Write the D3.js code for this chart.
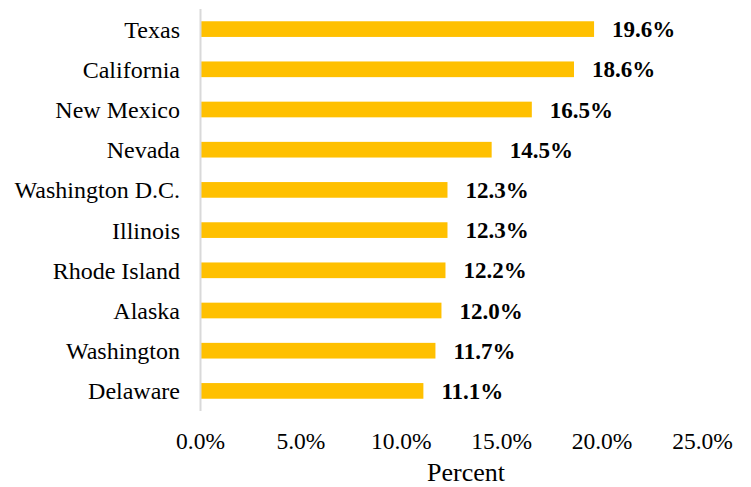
<!DOCTYPE html>
<html>
<head>
<meta charset="utf-8">
<script src="https://cdn.jsdelivr.net/npm/d3@7"></script>
<style>
  body { margin: 0; background: #fff; }
</style>
</head>
<body>
<div id="chart"></div>
<script>
const states = ["Texas", "California", "New Mexico", "Nevada", "Washington D.C.",
    "Illinois", "Rhode Island", "Alaska", "Washington", "Delaware"];
const values = [19.6, 18.6, 16.5, 14.5, 12.3, 12.3, 12.2, 12.0, 11.7, 11.1];
const ticks = [0, 5, 10, 15, 20, 25];

const width = 751;
const height = 487;
const font = "'Liberation Serif', 'Times New Roman', Times, serif";

const svg = d3.select("#chart")
    .append("svg")
    .attr("width", width)
    .attr("height", height)
    .style("font-family", font);

const x = d3.scaleLinear()
    .domain([0, 25])
    .range([200.5, 702.5]);

const y = d3.scaleBand()
    .domain(states)
    .range([9, 411])
    .paddingInner(0.61)
    .paddingOuter(0.305);

const data = states.map((s, i) => ({ state: s, value: values[i] }));

// bars
svg.selectAll(".bar")
    .data(data)
    .enter().append("rect")
    .attr("class", "bar")
    .attr("x", x(0))
    .attr("y", d => y(d.state))
    .attr("width", d => x(d.value) - x(0))
    .attr("height", y.bandwidth())
    .attr("fill", "#ffc000");

// vertical axis line
svg.append("line")
    .attr("x1", x(0)).attr("x2", x(0))
    .attr("y1", 9).attr("y2", 411)
    .attr("stroke", "#d9d9d9")
    .attr("stroke-width", 2);

// category labels
svg.selectAll(".cat")
    .data(data)
    .enter().append("text")
    .attr("class", "cat")
    .attr("x", 180)
    .attr("y", d => y(d.state) + y.bandwidth() / 2)
    .attr("dy", "0.35em")
    .attr("text-anchor", "end")
    .style("font-family", font)
    .style("font-size", "24px")
    .text(d => d.state);

// value labels
svg.selectAll(".val")
    .data(data)
    .enter().append("text")
    .attr("class", "val")
    .attr("x", d => x(d.value) + 18)
    .attr("y", d => y(d.state) + y.bandwidth() / 2)
    .attr("dy", "0.35em")
    .style("font-family", font)
    .style("font-size", "23px")
    .style("font-weight", "bold")
    .text(d => d.value.toFixed(1) + "%");

// x tick labels
svg.selectAll(".tick-label")
    .data(ticks)
    .enter().append("text")
    .attr("class", "tick-label")
    .attr("x", d => x(d))
    .attr("y", 449)
    .attr("text-anchor", "middle")
    .style("font-family", font)
    .style("font-size", "23.5px")
    .text(d => d.toFixed(1) + "%");

svg.append("text")
    .attr("x", 466)
    .attr("y", 481)
    .attr("text-anchor", "middle")
    .style("font-family", font)
    .style("font-size", "26px")
    .text("Percent");
</script>
</body>
</html>
